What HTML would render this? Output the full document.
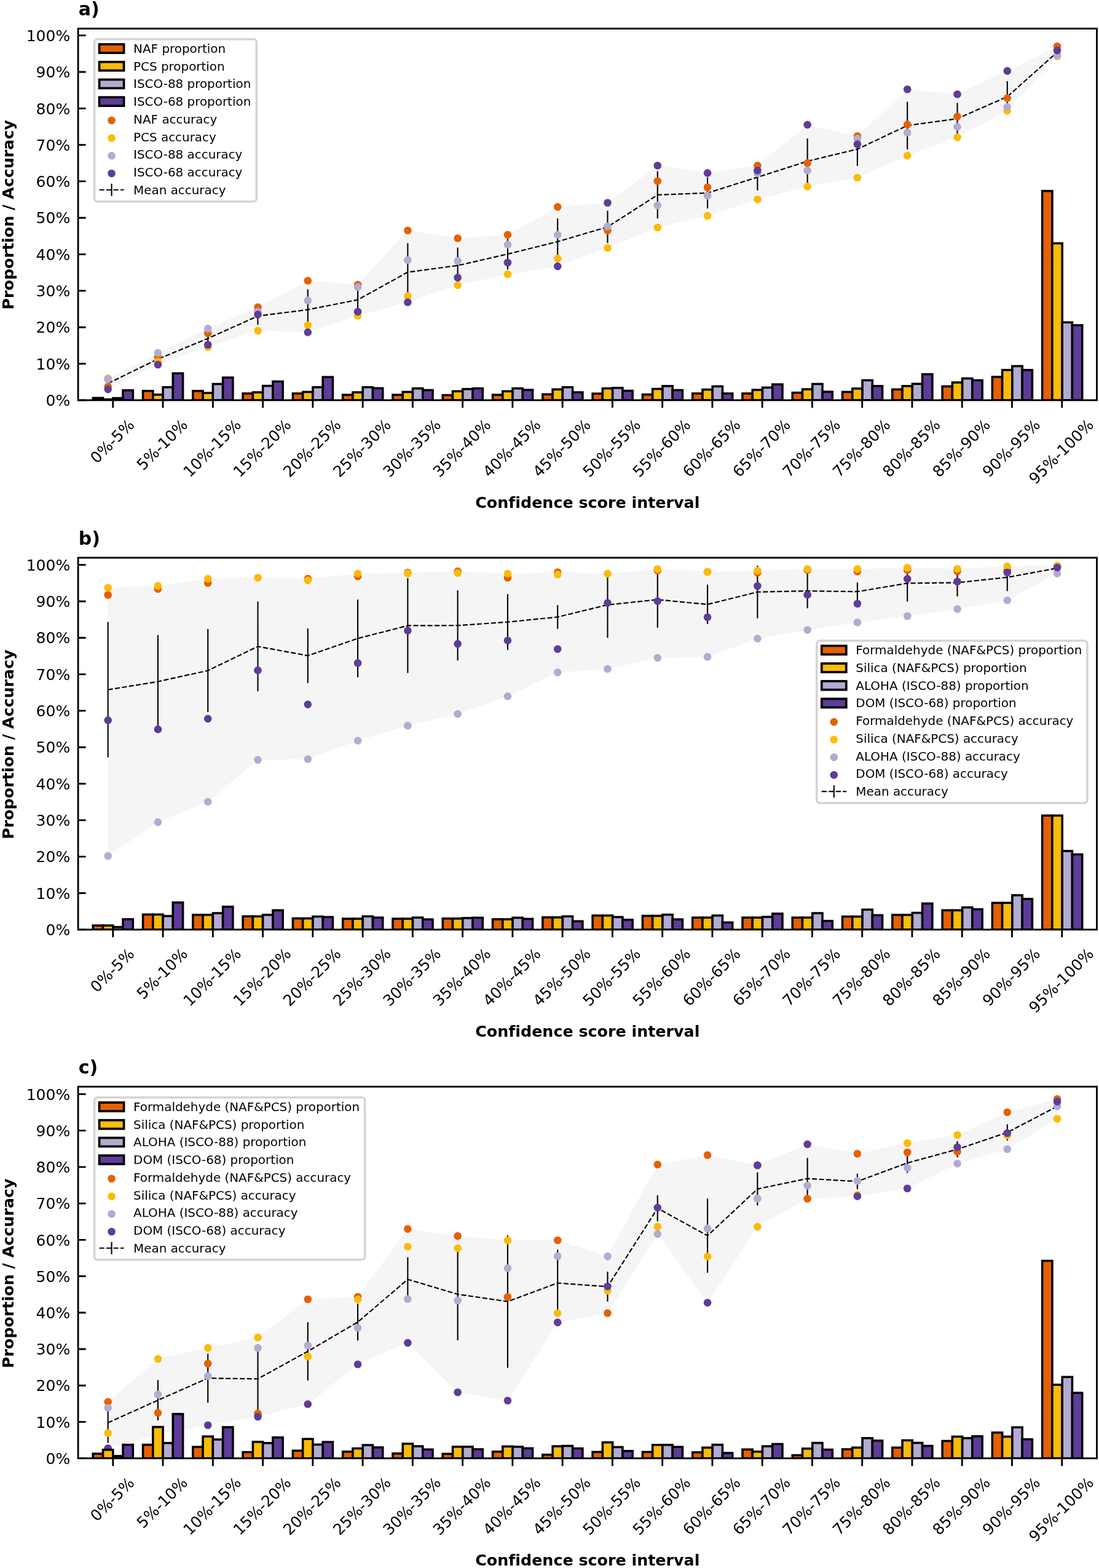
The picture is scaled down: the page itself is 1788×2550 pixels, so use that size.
<!DOCTYPE html>
<html lang="en">
<head>
<meta charset="utf-8">
<title>Proportion and accuracy by confidence score interval</title>
<style>
html,body{margin:0;padding:0;background:#fff}
body{width:1788px;height:2550px;overflow:hidden}
svg{display:block;font-family:'DejaVu Sans', 'Liberation Sans', sans-serif;fill:#000;font-variant-ligatures:none;font-kerning:normal}
svg text{fill:#000}
</style>
</head>
<body>
<svg width="1788" height="2550" viewBox="0 0 1788 2550">
<rect width="1788" height="2550" fill="#fff"/>
<g>
<clipPath id="clip-a"><rect x="127.1" y="46.5" width="1657.4" height="604.33"/></clipPath>
<g clip-path="url(#clip-a)">
<polygon fill="#f5f5f5" points="175.65,615.34 256.94,573.86 338.22,534.33 419.5,499.49 500.79,456.52 582.07,463.04 663.36,374.74 744.64,387.54 825.93,381.86 907.21,336.52 988.5,329.71 1069.79,269.26 1151.07,281.35 1232.36,269.26 1313.64,202.89 1394.92,221.26 1476.21,145.29 1557.5,153.23 1638.78,115.36 1720.07,75.3 1720.07,91.48 1638.78,180.13 1557.5,223.22 1476.21,253.08 1394.92,289.05 1313.64,303.34 1232.36,324.2 1151.07,351.04 1069.79,370 988.5,403.19 907.21,433.11 825.93,446.03 744.64,463.81 663.36,491.49 582.07,513.41 500.79,540.38 419.5,537.71 338.22,564.55 256.94,593.06 175.65,633.12"/>
<path d="M175.65 615.85V631.1M256.94 576.73V591.25M338.22 537.81V563M419.5 499.54V528.33M500.79 470.38V536.89M582.07 464.78V510.31M663.36 395.52V489.79M744.64 402.53V461.06M825.93 388.26V438.15M907.21 355.31V430.62M988.5 342.75V395.18M1069.79 278.62V355.31M1151.07 288.6V339.02M1232.36 266.87V309.46M1313.64 225.27V299.06M1394.92 215.28V269.82M1476.21 165.47V242.92M1557.5 167.13V218.92M1638.78 131.95V182.54M1720.07 78.2V91.34" stroke="#000" stroke-width="2.1" fill="none"/>
<path d="M175.65 623.47 L256.94 583.99 L338.22 550.4 L419.5 513.93 L500.79 503.63 L582.07 487.54 L663.36 442.66 L744.64 431.8 L825.93 413.2 L907.21 392.97 L988.5 368.97 L1069.79 316.97 L1151.07 313.81 L1232.36 288.17 L1313.64 262.16 L1394.92 242.55 L1476.21 204.19 L1557.5 193.02 L1638.78 157.25 L1720.07 84.77" stroke="#000" stroke-width="2.17" fill="none" stroke-dasharray="8.1 3.4"/>
<g fill="#e66101"><circle cx="175.65" cy="628.73" r="6.3"/><circle cx="256.94" cy="580.97" r="6.3"/><circle cx="338.22" cy="542.03" r="6.3"/><circle cx="419.5" cy="499.49" r="6.3"/><circle cx="500.79" cy="456.52" r="6.3"/><circle cx="582.07" cy="463.04" r="6.3"/><circle cx="663.36" cy="374.74" r="6.3"/><circle cx="744.64" cy="387.54" r="6.3"/><circle cx="825.93" cy="381.86" r="6.3"/><circle cx="907.21" cy="336.52" r="6.3"/><circle cx="988.5" cy="374.92" r="6.3"/><circle cx="1069.79" cy="294.57" r="6.3"/><circle cx="1151.07" cy="304.7" r="6.3"/><circle cx="1232.36" cy="269.26" r="6.3"/><circle cx="1313.64" cy="265.17" r="6.3"/><circle cx="1394.92" cy="221.26" r="6.3"/><circle cx="1476.21" cy="202.59" r="6.3"/><circle cx="1557.5" cy="189.44" r="6.3"/><circle cx="1638.78" cy="159.63" r="6.3"/><circle cx="1720.07" cy="75.3" r="6.3"/></g>
<g fill="#fbbb08"><circle cx="175.65" cy="615.34" r="6.3"/><circle cx="256.94" cy="588.08" r="6.3"/><circle cx="338.22" cy="564.55" r="6.3"/><circle cx="419.5" cy="537.71" r="6.3"/><circle cx="500.79" cy="528.82" r="6.3"/><circle cx="582.07" cy="513.41" r="6.3"/><circle cx="663.36" cy="481.41" r="6.3"/><circle cx="744.64" cy="463.81" r="6.3"/><circle cx="825.93" cy="446.03" r="6.3"/><circle cx="907.21" cy="420.37" r="6.3"/><circle cx="988.5" cy="403.19" r="6.3"/><circle cx="1069.79" cy="370" r="6.3"/><circle cx="1151.07" cy="351.04" r="6.3"/><circle cx="1232.36" cy="324.2" r="6.3"/><circle cx="1313.64" cy="303.34" r="6.3"/><circle cx="1394.92" cy="289.05" r="6.3"/><circle cx="1476.21" cy="253.08" r="6.3"/><circle cx="1557.5" cy="223.22" r="6.3"/><circle cx="1638.78" cy="180.13" r="6.3"/><circle cx="1720.07" cy="91.48" r="6.3"/></g>
<g fill="#b2abd2"><circle cx="175.65" cy="616.7" r="6.3"/><circle cx="256.94" cy="573.86" r="6.3"/><circle cx="338.22" cy="534.33" r="6.3"/><circle cx="419.5" cy="506.89" r="6.3"/><circle cx="500.79" cy="488.82" r="6.3"/><circle cx="582.07" cy="466.83" r="6.3"/><circle cx="663.36" cy="422.98" r="6.3"/><circle cx="744.64" cy="424.34" r="6.3"/><circle cx="825.93" cy="397.86" r="6.3"/><circle cx="907.21" cy="381.86" r="6.3"/><circle cx="988.5" cy="368.05" r="6.3"/><circle cx="1069.79" cy="334.03" r="6.3"/><circle cx="1151.07" cy="318.15" r="6.3"/><circle cx="1232.36" cy="281.94" r="6.3"/><circle cx="1313.64" cy="277.26" r="6.3"/><circle cx="1394.92" cy="225.41" r="6.3"/><circle cx="1476.21" cy="215.81" r="6.3"/><circle cx="1557.5" cy="206.21" r="6.3"/><circle cx="1638.78" cy="173.85" r="6.3"/><circle cx="1720.07" cy="90.3" r="6.3"/></g>
<g fill="#5e3c99"><circle cx="175.65" cy="633.12" r="6.3"/><circle cx="256.94" cy="593.06" r="6.3"/><circle cx="338.22" cy="560.7" r="6.3"/><circle cx="419.5" cy="511.63" r="6.3"/><circle cx="500.79" cy="540.38" r="6.3"/><circle cx="582.07" cy="506.89" r="6.3"/><circle cx="663.36" cy="491.49" r="6.3"/><circle cx="744.64" cy="451.49" r="6.3"/><circle cx="825.93" cy="427.07" r="6.3"/><circle cx="907.21" cy="433.11" r="6.3"/><circle cx="988.5" cy="329.71" r="6.3"/><circle cx="1069.79" cy="269.26" r="6.3"/><circle cx="1151.07" cy="281.35" r="6.3"/><circle cx="1232.36" cy="277.26" r="6.3"/><circle cx="1313.64" cy="202.89" r="6.3"/><circle cx="1394.92" cy="234.48" r="6.3"/><circle cx="1476.21" cy="145.29" r="6.3"/><circle cx="1557.5" cy="153.23" r="6.3"/><circle cx="1638.78" cy="115.36" r="6.3"/><circle cx="1720.07" cy="82" r="6.3"/></g>
<g fill="#e66101" stroke="#000" stroke-width="3.55" stroke-linejoin="miter">
<rect x="151.26" y="647.21" width="16.26" height="3.62"/>
<rect x="232.55" y="635.76" width="16.26" height="15.07"/>
<rect x="313.83" y="635.76" width="16.26" height="15.07"/>
<rect x="395.12" y="639.92" width="16.26" height="10.91"/>
<rect x="476.4" y="639.92" width="16.26" height="10.91"/>
<rect x="557.69" y="642.11" width="16.26" height="8.72"/>
<rect x="638.97" y="642.11" width="16.26" height="8.72"/>
<rect x="720.26" y="642.64" width="16.26" height="8.19"/>
<rect x="801.54" y="642.11" width="16.26" height="8.72"/>
<rect x="882.83" y="641.28" width="16.26" height="9.55"/>
<rect x="964.11" y="640.15" width="16.26" height="10.68"/>
<rect x="1045.4" y="641.58" width="16.26" height="9.25"/>
<rect x="1126.68" y="639.92" width="16.26" height="10.91"/>
<rect x="1207.97" y="639.92" width="16.26" height="10.91"/>
<rect x="1289.25" y="638.61" width="16.26" height="12.22"/>
<rect x="1370.54" y="637.42" width="16.26" height="13.41"/>
<rect x="1451.82" y="633.27" width="16.26" height="17.56"/>
<rect x="1533.11" y="628.35" width="16.26" height="22.48"/>
<rect x="1614.39" y="612.99" width="16.26" height="37.84"/>
<rect x="1695.68" y="310.6" width="16.26" height="340.23"/>
</g>
<g fill="#fbbb08" stroke="#000" stroke-width="3.55" stroke-linejoin="miter">
<rect x="167.52" y="649.58" width="16.26" height="1.25"/>
<rect x="248.81" y="641.81" width="16.26" height="9.02"/>
<rect x="330.09" y="639.09" width="16.26" height="11.74"/>
<rect x="411.38" y="638.02" width="16.26" height="12.81"/>
<rect x="492.66" y="637.42" width="16.26" height="13.41"/>
<rect x="573.95" y="638.02" width="16.26" height="12.81"/>
<rect x="655.23" y="637.42" width="16.26" height="13.41"/>
<rect x="736.52" y="636.3" width="16.26" height="14.53"/>
<rect x="817.8" y="636.3" width="16.26" height="14.53"/>
<rect x="899.09" y="633.27" width="16.26" height="17.56"/>
<rect x="980.37" y="631.67" width="16.26" height="19.16"/>
<rect x="1061.66" y="632.5" width="16.26" height="18.33"/>
<rect x="1142.94" y="633.57" width="16.26" height="17.26"/>
<rect x="1224.23" y="634.1" width="16.26" height="16.73"/>
<rect x="1305.51" y="633.04" width="16.26" height="17.79"/>
<rect x="1386.8" y="631.91" width="16.26" height="18.92"/>
<rect x="1468.08" y="627.82" width="16.26" height="23.01"/>
<rect x="1549.37" y="622" width="16.26" height="28.83"/>
<rect x="1630.65" y="601.72" width="16.26" height="49.11"/>
<rect x="1711.94" y="395.72" width="16.26" height="255.11"/>
</g>
<g fill="#b2abd2" stroke="#000" stroke-width="3.55" stroke-linejoin="miter">
<rect x="183.78" y="647.51" width="16.26" height="3.32"/>
<rect x="265.06" y="629.71" width="16.26" height="21.12"/>
<rect x="346.35" y="624.49" width="16.26" height="26.34"/>
<rect x="427.63" y="627.52" width="16.26" height="23.31"/>
<rect x="508.92" y="629.71" width="16.26" height="21.12"/>
<rect x="590.2" y="629.71" width="16.26" height="21.12"/>
<rect x="671.49" y="631.67" width="16.26" height="19.16"/>
<rect x="752.77" y="632.74" width="16.26" height="18.09"/>
<rect x="834.06" y="631.67" width="16.26" height="19.16"/>
<rect x="915.34" y="629.71" width="16.26" height="21.12"/>
<rect x="996.63" y="630.84" width="16.26" height="19.99"/>
<rect x="1077.91" y="627.82" width="16.26" height="23.01"/>
<rect x="1159.2" y="628.35" width="16.26" height="22.48"/>
<rect x="1240.48" y="630.31" width="16.26" height="20.52"/>
<rect x="1321.77" y="624.49" width="16.26" height="26.34"/>
<rect x="1403.05" y="618.44" width="16.26" height="32.39"/>
<rect x="1484.34" y="624.26" width="16.26" height="26.57"/>
<rect x="1565.62" y="615.48" width="16.26" height="35.35"/>
<rect x="1646.91" y="595.43" width="16.26" height="55.4"/>
<rect x="1728.19" y="524.25" width="16.26" height="126.58"/>
</g>
<g fill="#5e3c99" stroke="#000" stroke-width="3.55" stroke-linejoin="miter">
<rect x="200.04" y="634.76" width="16.26" height="16.07"/>
<rect x="281.32" y="607.17" width="16.26" height="43.66"/>
<rect x="362.61" y="614.05" width="16.26" height="36.78"/>
<rect x="443.89" y="620.4" width="16.26" height="30.43"/>
<rect x="525.18" y="613.22" width="16.26" height="37.61"/>
<rect x="606.46" y="631.37" width="16.26" height="19.46"/>
<rect x="687.75" y="634.46" width="16.26" height="16.37"/>
<rect x="769.03" y="631.67" width="16.26" height="19.16"/>
<rect x="850.32" y="634.1" width="16.26" height="16.73"/>
<rect x="931.6" y="638.02" width="16.26" height="12.81"/>
<rect x="1012.89" y="635.47" width="16.26" height="15.36"/>
<rect x="1094.17" y="634.46" width="16.26" height="16.37"/>
<rect x="1175.46" y="639.92" width="16.26" height="10.91"/>
<rect x="1256.74" y="625.09" width="16.26" height="25.74"/>
<rect x="1338.03" y="637.13" width="16.26" height="13.7"/>
<rect x="1419.31" y="627.82" width="16.26" height="23.01"/>
<rect x="1500.6" y="608.6" width="16.26" height="42.23"/>
<rect x="1581.88" y="618.44" width="16.26" height="32.39"/>
<rect x="1663.17" y="601.72" width="16.26" height="49.11"/>
<rect x="1744.45" y="528.88" width="16.26" height="121.95"/>
</g>
</g>
<path d="M127.1 650.83h12.5M127.1 591.52h12.5M127.1 532.2h12.5M127.1 472.89h12.5M127.1 413.57h12.5M127.1 354.26h12.5M127.1 294.94h12.5M127.1 235.63h12.5M127.1 176.31h12.5M127.1 117h12.5M127.1 57.68h12.5M183.8 650.83v12.5M265.06 650.83v12.5M346.32 650.83v12.5M427.58 650.83v12.5M508.84 650.83v12.5M590.1 650.83v12.5M671.36 650.83v12.5M752.62 650.83v12.5M833.88 650.83v12.5M915.14 650.83v12.5M996.4 650.83v12.5M1077.66 650.83v12.5M1158.92 650.83v12.5M1240.18 650.83v12.5M1321.44 650.83v12.5M1402.7 650.83v12.5M1483.96 650.83v12.5M1565.22 650.83v12.5M1646.48 650.83v12.5M1727.74 650.83v12.5" stroke="#000" stroke-width="2.85" fill="none"/>
<rect x="127.1" y="46.5" width="1657.4" height="604.33" fill="none" stroke="#000" stroke-width="2.85"/>
<g font-size="25" text-anchor="end">
<text x="114.2" y="660.03">0%</text>
<text x="114.2" y="600.72">10%</text>
<text x="114.2" y="541.4">20%</text>
<text x="114.2" y="482.09">30%</text>
<text x="114.2" y="422.77">40%</text>
<text x="114.2" y="363.46">50%</text>
<text x="114.2" y="304.14">60%</text>
<text x="114.2" y="244.83">70%</text>
<text x="114.2" y="185.51">80%</text>
<text x="114.2" y="126.2">90%</text>
<text x="114.2" y="66.88">100%</text>
</g>
<g font-size="25" text-anchor="middle">
<text transform="translate(182.35 717.43) rotate(-45)" y="9">0%-5%</text>
<text transform="translate(263.61 723.03) rotate(-45)" y="9">5%-10%</text>
<text transform="translate(344.87 728.63) rotate(-45)" y="9">10%-15%</text>
<text transform="translate(426.13 728.63) rotate(-45)" y="9">15%-20%</text>
<text transform="translate(507.39 728.63) rotate(-45)" y="9">20%-25%</text>
<text transform="translate(588.65 728.63) rotate(-45)" y="9">25%-30%</text>
<text transform="translate(669.91 728.63) rotate(-45)" y="9">30%-35%</text>
<text transform="translate(751.17 728.63) rotate(-45)" y="9">35%-40%</text>
<text transform="translate(832.43 728.63) rotate(-45)" y="9">40%-45%</text>
<text transform="translate(913.69 728.63) rotate(-45)" y="9">45%-50%</text>
<text transform="translate(994.95 728.63) rotate(-45)" y="9">50%-55%</text>
<text transform="translate(1076.21 728.63) rotate(-45)" y="9">55%-60%</text>
<text transform="translate(1157.47 728.63) rotate(-45)" y="9">60%-65%</text>
<text transform="translate(1238.73 728.63) rotate(-45)" y="9">65%-70%</text>
<text transform="translate(1319.99 728.63) rotate(-45)" y="9">70%-75%</text>
<text transform="translate(1401.25 728.63) rotate(-45)" y="9">75%-80%</text>
<text transform="translate(1482.51 728.63) rotate(-45)" y="9">80%-85%</text>
<text transform="translate(1563.77 728.63) rotate(-45)" y="9">85%-90%</text>
<text transform="translate(1645.03 728.63) rotate(-45)" y="9">90%-95%</text>
<text transform="translate(1726.29 734.23) rotate(-45)" y="9">95%-100%</text>
</g>
<text x="955.8" y="825.63" font-size="25.35" font-weight="bold" text-anchor="middle">Confidence score interval</text>
<text transform="translate(22 349.33) rotate(-90)" font-size="25.35" font-weight="bold" text-anchor="middle">Proportion / Accuracy</text>
<text x="127.7" y="25.13" font-size="30" font-weight="bold">a)</text>
<rect x="153.55" y="63.8" width="263.8" height="264" rx="5" ry="5" fill="#fff" fill-opacity="0.8" stroke="#d4d4d4" stroke-width="3.5"/>
<g font-size="19.92">
<rect x="161.55" y="72" width="40" height="14" fill="#e66101" stroke="#000" stroke-width="3.7"/>
<text x="217.1" y="86">NAF proportion</text>
<rect x="161.55" y="100.72" width="40" height="14" fill="#fbbb08" stroke="#000" stroke-width="3.7"/>
<text x="217.1" y="114.72">PCS proportion</text>
<rect x="161.55" y="129.44" width="40" height="14" fill="#b2abd2" stroke="#000" stroke-width="3.7"/>
<text x="217.1" y="143.44">ISCO-88 proportion</text>
<rect x="161.55" y="158.16" width="40" height="14" fill="#5e3c99" stroke="#000" stroke-width="3.7"/>
<text x="217.1" y="172.16">ISCO-68 proportion</text>
<circle cx="181.55" cy="195.78" r="6.3" fill="#e66101"/>
<text x="217.1" y="200.88">NAF accuracy</text>
<circle cx="181.55" cy="224.5" r="6.3" fill="#fbbb08"/>
<text x="217.1" y="229.6">PCS accuracy</text>
<circle cx="181.55" cy="253.22" r="6.3" fill="#b2abd2"/>
<text x="217.1" y="258.32">ISCO-88 accuracy</text>
<circle cx="181.55" cy="281.94" r="6.3" fill="#5e3c99"/>
<text x="217.1" y="287.04">ISCO-68 accuracy</text>
<path d="M161.55 308.76h40" stroke="#000" stroke-width="2.17" stroke-dasharray="8.1 3.4" fill="none"/>
<path d="M181.55 298.76v20" stroke="#000" stroke-width="2.1" fill="none"/>
<text x="217.1" y="315.76">Mean accuracy</text>
</g>
</g>
<g>
<clipPath id="clip-b"><rect x="127.1" y="907" width="1657.4" height="604.8"/></clipPath>
<g clip-path="url(#clip-b)">
<polygon fill="#f5f5f5" points="175.65,955.95 256.94,952.69 338.22,941.13 419.5,939.53 500.79,941.13 582.07,932.9 663.36,931.3 744.64,929.1 825.93,932.9 907.21,930.47 988.5,932.9 1069.79,925.49 1151.07,929.87 1232.36,928.27 1313.64,925.25 1394.92,925.25 1476.21,923.3 1557.5,924.95 1638.78,921.1 1720.07,919.74 1720.07,932.66 1638.78,976.27 1557.5,990.56 1476.21,1002.05 1394.92,1012.24 1313.64,1024.57 1232.36,1038.56 1151.07,1068.19 1069.79,1069.85 988.5,1087.92 907.21,1093.43 825.93,1132.42 744.64,1160.93 663.36,1180.13 582.07,1204.54 500.79,1234.47 419.5,1235.83 338.22,1303.86 256.94,1337.11 175.65,1391.98"/>
<path d="M175.65 1011.55V1231.85M256.94 1032.72V1184.21M338.22 1023.03V1157.91M419.5 978.19V1124.34M500.79 1021.91V1110.64M582.07 975.09V1101.43M663.36 940.32V1094.54M744.64 960.12V1074.36M825.93 966.29V1056.92M907.21 984.11V1022.78M988.5 930V1037.24M1069.79 929.55V1020.78M1151.07 950.81V1015.1M1232.36 920.04V1005.45M1313.64 932.87V989.22M1394.92 947.15V977.16M1476.21 918.76V978.2M1557.5 925.23V969.95M1638.78 916.58V961.18M1720.07 918.67V929.35" stroke="#000" stroke-width="2.1" fill="none"/>
<path d="M175.65 1121.7 L256.94 1108.47 L338.22 1090.47 L419.5 1051.27 L500.79 1066.27 L582.07 1038.26 L663.36 1017.43 L744.64 1017.24 L825.93 1011.61 L907.21 1003.44 L988.5 983.62 L1069.79 975.16 L1151.07 982.96 L1232.36 962.75 L1313.64 961.04 L1394.92 962.16 L1476.21 948.48 L1557.5 947.59 L1638.78 938.88 L1720.07 924.01" stroke="#000" stroke-width="2.17" fill="none" stroke-dasharray="8.1 3.4"/>
<g fill="#e66101"><circle cx="175.65" cy="967.5" r="6.3"/><circle cx="256.94" cy="957.9" r="6.3"/><circle cx="338.22" cy="948.01" r="6.3"/><circle cx="419.5" cy="939.53" r="5.7"/><circle cx="500.79" cy="941.13" r="6.3"/><circle cx="582.07" cy="937.28" r="6.3"/><circle cx="663.36" cy="931.3" r="6.3"/><circle cx="744.64" cy="929.1" r="6.3"/><circle cx="825.93" cy="939.53" r="6.3"/><circle cx="907.21" cy="930.47" r="6.3"/><circle cx="988.5" cy="933.01" r="5.7"/><circle cx="1069.79" cy="927.68" r="6.3"/><circle cx="1151.07" cy="930.05" r="6.3"/><circle cx="1232.36" cy="931.24" r="6.3"/><circle cx="1313.64" cy="927.15" r="6.3"/><circle cx="1394.92" cy="929.34" r="6.3"/><circle cx="1476.21" cy="927.15" r="6.3"/><circle cx="1557.5" cy="929.04" r="6.3"/><circle cx="1638.78" cy="927.15" r="6.3"/><circle cx="1720.07" cy="920.57" r="6.3"/></g>
<g fill="#fbbb08"><circle cx="175.65" cy="955.95" r="6.3"/><circle cx="256.94" cy="952.69" r="6.3"/><circle cx="338.22" cy="941.13" r="6.3"/><circle cx="419.5" cy="939.53" r="6.3"/><circle cx="500.79" cy="943.92" r="6.3"/><circle cx="582.07" cy="932.9" r="6.3"/><circle cx="663.36" cy="932.66" r="6.3"/><circle cx="744.64" cy="931.83" r="6.3"/><circle cx="825.93" cy="932.9" r="6.3"/><circle cx="907.21" cy="934.32" r="6.3"/><circle cx="988.5" cy="932.9" r="6.3"/><circle cx="1069.79" cy="925.49" r="6.3"/><circle cx="1151.07" cy="929.87" r="6.3"/><circle cx="1232.36" cy="928.27" r="6.3"/><circle cx="1313.64" cy="925.25" r="6.3"/><circle cx="1394.92" cy="925.25" r="6.3"/><circle cx="1476.21" cy="923.3" r="6.3"/><circle cx="1557.5" cy="924.95" r="6.3"/><circle cx="1638.78" cy="921.1" r="6.3"/><circle cx="1720.07" cy="919.74" r="6.3"/></g>
<g fill="#b2abd2"><circle cx="175.65" cy="1391.98" r="6.3"/><circle cx="256.94" cy="1337.11" r="6.3"/><circle cx="338.22" cy="1303.86" r="6.3"/><circle cx="419.5" cy="1235.83" r="6.3"/><circle cx="500.79" cy="1234.47" r="6.3"/><circle cx="582.07" cy="1204.54" r="6.3"/><circle cx="663.36" cy="1180.13" r="6.3"/><circle cx="744.64" cy="1160.93" r="6.3"/><circle cx="825.93" cy="1132.42" r="6.3"/><circle cx="907.21" cy="1093.43" r="6.3"/><circle cx="988.5" cy="1087.92" r="6.3"/><circle cx="1069.79" cy="1069.85" r="6.3"/><circle cx="1151.07" cy="1068.19" r="6.3"/><circle cx="1232.36" cy="1038.56" r="6.3"/><circle cx="1313.64" cy="1024.57" r="6.3"/><circle cx="1394.92" cy="1012.24" r="6.3"/><circle cx="1476.21" cy="1002.05" r="6.3"/><circle cx="1557.5" cy="990.56" r="6.3"/><circle cx="1638.78" cy="976.27" r="6.3"/><circle cx="1720.07" cy="932.66" r="6.3"/></g>
<g fill="#5e3c99"><circle cx="175.65" cy="1171.36" r="6.3"/><circle cx="256.94" cy="1186.17" r="6.3"/><circle cx="338.22" cy="1168.87" r="6.3"/><circle cx="419.5" cy="1090.17" r="6.3"/><circle cx="500.79" cy="1145.58" r="6.3"/><circle cx="582.07" cy="1078.32" r="6.3"/><circle cx="663.36" cy="1025.64" r="6.3"/><circle cx="744.64" cy="1047.09" r="6.3"/><circle cx="825.93" cy="1041.58" r="6.3"/><circle cx="907.21" cy="1055.56" r="6.3"/><circle cx="988.5" cy="980.66" r="6.3"/><circle cx="1069.79" cy="977.64" r="6.3"/><circle cx="1151.07" cy="1003.71" r="6.3"/><circle cx="1232.36" cy="952.93" r="6.3"/><circle cx="1313.64" cy="967.21" r="6.3"/><circle cx="1394.92" cy="981.79" r="6.3"/><circle cx="1476.21" cy="941.43" r="6.3"/><circle cx="1557.5" cy="945.81" r="6.3"/><circle cx="1638.78" cy="931" r="6.3"/><circle cx="1720.07" cy="923.06" r="6.3"/></g>
<g fill="#e66101" stroke="#000" stroke-width="3.55" stroke-linejoin="miter">
<rect x="151.26" y="1505.1" width="16.26" height="6.7"/>
<rect x="232.55" y="1487.24" width="16.26" height="24.56"/>
<rect x="313.83" y="1487.78" width="16.26" height="24.02"/>
<rect x="395.12" y="1490.27" width="16.26" height="21.53"/>
<rect x="476.4" y="1493.59" width="16.26" height="18.21"/>
<rect x="557.69" y="1494.12" width="16.26" height="17.68"/>
<rect x="638.97" y="1494.12" width="16.26" height="17.68"/>
<rect x="720.26" y="1493.83" width="16.26" height="17.97"/>
<rect x="801.54" y="1494.95" width="16.26" height="16.85"/>
<rect x="882.83" y="1491.93" width="16.26" height="19.87"/>
<rect x="964.11" y="1488.9" width="16.26" height="22.9"/>
<rect x="1045.4" y="1489.44" width="16.26" height="22.36"/>
<rect x="1126.68" y="1492.23" width="16.26" height="19.57"/>
<rect x="1207.97" y="1492.23" width="16.26" height="19.57"/>
<rect x="1289.25" y="1492.23" width="16.26" height="19.57"/>
<rect x="1370.54" y="1490.57" width="16.26" height="21.23"/>
<rect x="1451.82" y="1487.84" width="16.26" height="23.96"/>
<rect x="1533.11" y="1480.36" width="16.26" height="31.44"/>
<rect x="1614.39" y="1468.32" width="16.26" height="43.48"/>
<rect x="1695.68" y="1326.32" width="16.26" height="185.48"/>
</g>
<g fill="#fbbb08" stroke="#000" stroke-width="3.55" stroke-linejoin="miter">
<rect x="167.52" y="1505.1" width="16.26" height="6.7"/>
<rect x="248.81" y="1487.24" width="16.26" height="24.56"/>
<rect x="330.09" y="1487.78" width="16.26" height="24.02"/>
<rect x="411.38" y="1490.27" width="16.26" height="21.53"/>
<rect x="492.66" y="1493.59" width="16.26" height="18.21"/>
<rect x="573.95" y="1494.12" width="16.26" height="17.68"/>
<rect x="655.23" y="1494.12" width="16.26" height="17.68"/>
<rect x="736.52" y="1493.83" width="16.26" height="17.97"/>
<rect x="817.8" y="1494.95" width="16.26" height="16.85"/>
<rect x="899.09" y="1491.93" width="16.26" height="19.87"/>
<rect x="980.37" y="1488.9" width="16.26" height="22.9"/>
<rect x="1061.66" y="1489.44" width="16.26" height="22.36"/>
<rect x="1142.94" y="1492.23" width="16.26" height="19.57"/>
<rect x="1224.23" y="1492.23" width="16.26" height="19.57"/>
<rect x="1305.51" y="1492.23" width="16.26" height="19.57"/>
<rect x="1386.8" y="1490.57" width="16.26" height="21.23"/>
<rect x="1468.08" y="1487.84" width="16.26" height="23.96"/>
<rect x="1549.37" y="1480.36" width="16.26" height="31.44"/>
<rect x="1630.65" y="1468.32" width="16.26" height="43.48"/>
<rect x="1711.94" y="1326.32" width="16.26" height="185.48"/>
</g>
<g fill="#b2abd2" stroke="#000" stroke-width="3.55" stroke-linejoin="miter">
<rect x="183.78" y="1507.65" width="16.26" height="4.15"/>
<rect x="265.06" y="1489.73" width="16.26" height="22.07"/>
<rect x="346.35" y="1485.05" width="16.26" height="26.75"/>
<rect x="427.63" y="1487.78" width="16.26" height="24.02"/>
<rect x="508.92" y="1490.57" width="16.26" height="21.23"/>
<rect x="590.2" y="1490.27" width="16.26" height="21.53"/>
<rect x="671.49" y="1492.23" width="16.26" height="19.57"/>
<rect x="752.77" y="1493" width="16.26" height="18.8"/>
<rect x="834.06" y="1492.46" width="16.26" height="19.34"/>
<rect x="915.34" y="1490.27" width="16.26" height="21.53"/>
<rect x="996.63" y="1491.4" width="16.26" height="20.4"/>
<rect x="1077.91" y="1487.54" width="16.26" height="24.26"/>
<rect x="1159.2" y="1488.9" width="16.26" height="22.9"/>
<rect x="1240.48" y="1491.1" width="16.26" height="20.7"/>
<rect x="1321.77" y="1485.05" width="16.26" height="26.75"/>
<rect x="1403.05" y="1479.3" width="16.26" height="32.5"/>
<rect x="1484.34" y="1484.52" width="16.26" height="27.28"/>
<rect x="1565.62" y="1475.74" width="16.26" height="36.06"/>
<rect x="1646.91" y="1455.93" width="16.26" height="55.87"/>
<rect x="1728.19" y="1383.98" width="16.26" height="127.82"/>
</g>
<g fill="#5e3c99" stroke="#000" stroke-width="3.55" stroke-linejoin="miter">
<rect x="200.04" y="1494.95" width="16.26" height="16.85"/>
<rect x="281.32" y="1467.73" width="16.26" height="44.07"/>
<rect x="362.61" y="1474.61" width="16.26" height="37.19"/>
<rect x="443.89" y="1480.36" width="16.26" height="31.44"/>
<rect x="525.18" y="1491.4" width="16.26" height="20.4"/>
<rect x="606.46" y="1492.23" width="16.26" height="19.57"/>
<rect x="687.75" y="1495.19" width="16.26" height="16.61"/>
<rect x="769.03" y="1492.46" width="16.26" height="19.34"/>
<rect x="850.32" y="1494.42" width="16.26" height="17.38"/>
<rect x="931.6" y="1498.22" width="16.26" height="13.58"/>
<rect x="1012.89" y="1495.78" width="16.26" height="16.02"/>
<rect x="1094.17" y="1495.19" width="16.26" height="16.61"/>
<rect x="1175.46" y="1500.17" width="16.26" height="11.63"/>
<rect x="1256.74" y="1485.88" width="16.26" height="25.92"/>
<rect x="1338.03" y="1497.68" width="16.26" height="14.12"/>
<rect x="1419.31" y="1488.37" width="16.26" height="23.43"/>
<rect x="1500.6" y="1469.39" width="16.26" height="42.41"/>
<rect x="1581.88" y="1478.76" width="16.26" height="33.04"/>
<rect x="1663.17" y="1461.98" width="16.26" height="49.82"/>
<rect x="1744.45" y="1389.49" width="16.26" height="122.31"/>
</g>
</g>
<path d="M127.1 1511.8h12.5M127.1 1452.48h12.5M127.1 1393.17h12.5M127.1 1333.86h12.5M127.1 1274.54h12.5M127.1 1215.22h12.5M127.1 1155.91h12.5M127.1 1096.6h12.5M127.1 1037.28h12.5M127.1 977.96h12.5M127.1 918.65h12.5M183.8 1511.8v12.5M265.06 1511.8v12.5M346.32 1511.8v12.5M427.58 1511.8v12.5M508.84 1511.8v12.5M590.1 1511.8v12.5M671.36 1511.8v12.5M752.62 1511.8v12.5M833.88 1511.8v12.5M915.14 1511.8v12.5M996.4 1511.8v12.5M1077.66 1511.8v12.5M1158.92 1511.8v12.5M1240.18 1511.8v12.5M1321.44 1511.8v12.5M1402.7 1511.8v12.5M1483.96 1511.8v12.5M1565.22 1511.8v12.5M1646.48 1511.8v12.5M1727.74 1511.8v12.5" stroke="#000" stroke-width="2.85" fill="none"/>
<rect x="127.1" y="907" width="1657.4" height="604.8" fill="none" stroke="#000" stroke-width="2.85"/>
<g font-size="25" text-anchor="end">
<text x="114.2" y="1521">0%</text>
<text x="114.2" y="1461.68">10%</text>
<text x="114.2" y="1402.37">20%</text>
<text x="114.2" y="1343.06">30%</text>
<text x="114.2" y="1283.74">40%</text>
<text x="114.2" y="1224.42">50%</text>
<text x="114.2" y="1165.11">60%</text>
<text x="114.2" y="1105.8">70%</text>
<text x="114.2" y="1046.48">80%</text>
<text x="114.2" y="987.16">90%</text>
<text x="114.2" y="927.85">100%</text>
</g>
<g font-size="25" text-anchor="middle">
<text transform="translate(182.35 1577.7) rotate(-45)" y="9">0%-5%</text>
<text transform="translate(263.61 1583.3) rotate(-45)" y="9">5%-10%</text>
<text transform="translate(344.87 1588.9) rotate(-45)" y="9">10%-15%</text>
<text transform="translate(426.13 1588.9) rotate(-45)" y="9">15%-20%</text>
<text transform="translate(507.39 1588.9) rotate(-45)" y="9">20%-25%</text>
<text transform="translate(588.65 1588.9) rotate(-45)" y="9">25%-30%</text>
<text transform="translate(669.91 1588.9) rotate(-45)" y="9">30%-35%</text>
<text transform="translate(751.17 1588.9) rotate(-45)" y="9">35%-40%</text>
<text transform="translate(832.43 1588.9) rotate(-45)" y="9">40%-45%</text>
<text transform="translate(913.69 1588.9) rotate(-45)" y="9">45%-50%</text>
<text transform="translate(994.95 1588.9) rotate(-45)" y="9">50%-55%</text>
<text transform="translate(1076.21 1588.9) rotate(-45)" y="9">55%-60%</text>
<text transform="translate(1157.47 1588.9) rotate(-45)" y="9">60%-65%</text>
<text transform="translate(1238.73 1588.9) rotate(-45)" y="9">65%-70%</text>
<text transform="translate(1319.99 1588.9) rotate(-45)" y="9">70%-75%</text>
<text transform="translate(1401.25 1588.9) rotate(-45)" y="9">75%-80%</text>
<text transform="translate(1482.51 1588.9) rotate(-45)" y="9">80%-85%</text>
<text transform="translate(1563.77 1588.9) rotate(-45)" y="9">85%-90%</text>
<text transform="translate(1645.03 1588.9) rotate(-45)" y="9">90%-95%</text>
<text transform="translate(1726.29 1594.5) rotate(-45)" y="9">95%-100%</text>
</g>
<text x="955.8" y="1686.2" font-size="25.35" font-weight="bold" text-anchor="middle">Confidence score interval</text>
<text transform="translate(22 1210.6) rotate(-90)" font-size="25.35" font-weight="bold" text-anchor="middle">Proportion / Accuracy</text>
<text x="127.7" y="885.5" font-size="30" font-weight="bold">b)</text>
<rect x="1328.8" y="1042.1" width="440.1" height="264" rx="5" ry="5" fill="#fff" fill-opacity="0.8" stroke="#d4d4d4" stroke-width="3.5"/>
<g font-size="19.92">
<rect x="1336.8" y="1050.3" width="40" height="14" fill="#e66101" stroke="#000" stroke-width="3.7"/>
<text x="1392.35" y="1064.3">Formaldehyde (NAF&amp;PCS) proportion</text>
<rect x="1336.8" y="1079.02" width="40" height="14" fill="#fbbb08" stroke="#000" stroke-width="3.7"/>
<text x="1392.35" y="1093.02">Silica (NAF&amp;PCS) proportion</text>
<rect x="1336.8" y="1107.74" width="40" height="14" fill="#b2abd2" stroke="#000" stroke-width="3.7"/>
<text x="1392.35" y="1121.74">ALOHA (ISCO-88) proportion</text>
<rect x="1336.8" y="1136.46" width="40" height="14" fill="#5e3c99" stroke="#000" stroke-width="3.7"/>
<text x="1392.35" y="1150.46">DOM (ISCO-68) proportion</text>
<circle cx="1356.8" cy="1174.08" r="6.3" fill="#e66101"/>
<text x="1392.35" y="1179.18">Formaldehyde (NAF&amp;PCS) accuracy</text>
<circle cx="1356.8" cy="1202.8" r="6.3" fill="#fbbb08"/>
<text x="1392.35" y="1207.9">Silica (NAF&amp;PCS) accuracy</text>
<circle cx="1356.8" cy="1231.52" r="6.3" fill="#b2abd2"/>
<text x="1392.35" y="1236.62">ALOHA (ISCO-88) accuracy</text>
<circle cx="1356.8" cy="1260.24" r="6.3" fill="#5e3c99"/>
<text x="1392.35" y="1265.34">DOM (ISCO-68) accuracy</text>
<path d="M1336.8 1287.06h40" stroke="#000" stroke-width="2.17" stroke-dasharray="8.1 3.4" fill="none"/>
<path d="M1356.8 1277.06v20" stroke="#000" stroke-width="2.1" fill="none"/>
<text x="1392.35" y="1294.06">Mean accuracy</text>
</g>
</g>
<g>
<clipPath id="clip-c"><rect x="127.1" y="1767.2" width="1657.4" height="604.45"/></clipPath>
<g clip-path="url(#clip-c)">
<polygon fill="#f5f5f5" points="175.65,2279.86 256.94,2209.93 338.22,2192.09 419.5,2175.08 500.79,2113.04 582.07,2108.95 663.36,1998.61 744.64,2010.16 825.93,2017.28 907.21,2017.04 988.5,2043.11 1069.79,1893.84 1151.07,1878.43 1232.36,1894.9 1313.64,1860.89 1394.92,1876.24 1476.21,1858.99 1557.5,1845.78 1638.78,1808.74 1720.07,1787.35 1720.07,1819.47 1638.78,1868.83 1557.5,1892.18 1476.21,1932.77 1394.92,1945.39 1313.64,1949.54 1232.36,1995.05 1151.07,2118.55 1069.79,2006.85 988.5,2135.56 907.21,2150.67 825.93,2277.72 744.64,2264.27 663.36,2183.86 582.07,2218.7 500.79,2283.47 419.5,2304.03 338.22,2317.72 256.94,2333.01 175.65,2355.23"/>
<path d="M175.65 2281.24V2346.39M256.94 2244.26V2310M338.22 2201.4V2281.24M419.5 2190.32V2294.55M500.79 2150.31V2244.95M582.07 2120.2V2180.02M663.36 2044.72V2116.5M744.64 2029.97V2179.69M825.93 2008.89V2224.47M907.21 2032.45V2140.59M988.5 2068.02V2116.82M1069.79 1943.75V1986.15M1151.07 1949.37V2069.71M1232.36 1906.59V1960.61M1313.64 1882.89V1950.41M1394.92 1908.63V1934.1M1476.21 1875.05V1907.5M1557.5 1855.98V1882.27M1638.78 1828.53V1854.82M1720.07 1793.38V1805.23" stroke="#000" stroke-width="2.1" fill="none"/>
<path d="M175.65 2313.81 L256.94 2277.13 L338.22 2241.32 L419.5 2242.43 L500.79 2197.63 L582.07 2150.11 L663.36 2080.61 L744.64 2104.83 L825.93 2116.68 L907.21 2086.52 L988.5 2092.42 L1069.79 1964.95 L1151.07 2009.54 L1232.36 1933.6 L1313.64 1916.65 L1394.92 1921.36 L1476.21 1891.27 L1557.5 1869.13 L1638.78 1841.67 L1720.07 1799.3" stroke="#000" stroke-width="2.17" fill="none" stroke-dasharray="8.1 3.4"/>
<g fill="#e66101"><circle cx="175.65" cy="2279.86" r="6.3"/><circle cx="256.94" cy="2297.75" r="6.3"/><circle cx="338.22" cy="2217.57" r="6.3"/><circle cx="419.5" cy="2298.52" r="6.3"/><circle cx="500.79" cy="2113.04" r="6.3"/><circle cx="582.07" cy="2108.95" r="6.3"/><circle cx="663.36" cy="1998.61" r="6.3"/><circle cx="744.64" cy="2010.16" r="6.3"/><circle cx="825.93" cy="2109.19" r="6.3"/><circle cx="907.21" cy="2017.04" r="6.3"/><circle cx="988.5" cy="2135.56" r="6.3"/><circle cx="1069.79" cy="1893.84" r="6.3"/><circle cx="1151.07" cy="1878.43" r="6.3"/><circle cx="1232.36" cy="1894.9" r="6.3"/><circle cx="1313.64" cy="1949.54" r="6.3"/><circle cx="1394.92" cy="1876.24" r="6.3"/><circle cx="1476.21" cy="1874.04" r="6.3"/><circle cx="1557.5" cy="1872.98" r="6.3"/><circle cx="1638.78" cy="1808.74" r="6.3"/><circle cx="1720.07" cy="1787.35" r="6.3"/></g>
<g fill="#fbbb08"><circle cx="175.65" cy="2330.64" r="6.3"/><circle cx="256.94" cy="2209.93" r="6.3"/><circle cx="338.22" cy="2192.09" r="6.3"/><circle cx="419.5" cy="2175.08" r="6.3"/><circle cx="500.79" cy="2206.08" r="6.3"/><circle cx="582.07" cy="2113.34" r="6.3"/><circle cx="663.36" cy="2027.47" r="6.3"/><circle cx="744.64" cy="2029.9" r="6.3"/><circle cx="825.93" cy="2017.28" r="6.3"/><circle cx="907.21" cy="2135.56" r="6.3"/><circle cx="988.5" cy="2099.05" r="6.3"/><circle cx="1069.79" cy="1995.05" r="6.3"/><circle cx="1151.07" cy="2043.35" r="6.3"/><circle cx="1232.36" cy="1995.05" r="6.3"/><circle cx="1313.64" cy="1928.09" r="5.7"/><circle cx="1394.92" cy="1943.38" r="6.3"/><circle cx="1476.21" cy="1858.99" r="6.3"/><circle cx="1557.5" cy="1845.78" r="6.3"/><circle cx="1638.78" cy="1846.37" r="6.3"/><circle cx="1720.07" cy="1819.47" r="6.3"/></g>
<g fill="#b2abd2"><circle cx="175.65" cy="2289.52" r="6.3"/><circle cx="256.94" cy="2267.83" r="6.3"/><circle cx="338.22" cy="2237.9" r="6.3"/><circle cx="419.5" cy="2192.09" r="6.3"/><circle cx="500.79" cy="2187.94" r="6.3"/><circle cx="582.07" cy="2159.44" r="6.3"/><circle cx="663.36" cy="2112.51" r="6.3"/><circle cx="744.64" cy="2115" r="6.3"/><circle cx="825.93" cy="2062.55" r="6.3"/><circle cx="907.21" cy="2042.82" r="6.3"/><circle cx="988.5" cy="2043.11" r="6.3"/><circle cx="1069.79" cy="2006.85" r="6.3"/><circle cx="1151.07" cy="1997.84" r="6.3"/><circle cx="1232.36" cy="1949.25" r="6.3"/><circle cx="1313.64" cy="1928.09" r="6.3"/><circle cx="1394.92" cy="1920.44" r="6.3"/><circle cx="1476.21" cy="1899.29" r="6.3"/><circle cx="1557.5" cy="1892.18" r="6.3"/><circle cx="1638.78" cy="1868.83" r="6.3"/><circle cx="1720.07" cy="1798.9" r="6.3"/></g>
<g fill="#5e3c99"><circle cx="175.65" cy="2355.23" r="6.3"/><circle cx="256.94" cy="2333.01" r="6.3"/><circle cx="338.22" cy="2317.72" r="6.3"/><circle cx="419.5" cy="2304.03" r="6.3"/><circle cx="500.79" cy="2283.47" r="6.3"/><circle cx="582.07" cy="2218.7" r="6.3"/><circle cx="663.36" cy="2183.86" r="6.3"/><circle cx="744.64" cy="2264.27" r="6.3"/><circle cx="825.93" cy="2277.72" r="6.3"/><circle cx="907.21" cy="2150.67" r="6.3"/><circle cx="988.5" cy="2091.94" r="6.3"/><circle cx="1069.79" cy="1964.06" r="6.3"/><circle cx="1151.07" cy="2118.55" r="6.3"/><circle cx="1232.36" cy="1895.2" r="6.3"/><circle cx="1313.64" cy="1860.89" r="6.3"/><circle cx="1394.92" cy="1945.39" r="6.3"/><circle cx="1476.21" cy="1932.77" r="6.3"/><circle cx="1557.5" cy="1865.57" r="6.3"/><circle cx="1638.78" cy="1842.75" r="6.3"/><circle cx="1720.07" cy="1791.5" r="6.3"/></g>
<g fill="#e66101" stroke="#000" stroke-width="3.55" stroke-linejoin="miter">
<rect x="151.26" y="2364.1" width="16.26" height="7.55"/>
<rect x="232.55" y="2349.57" width="16.26" height="22.08"/>
<rect x="313.83" y="2353.13" width="16.26" height="18.52"/>
<rect x="395.12" y="2361.61" width="16.26" height="10.04"/>
<rect x="476.4" y="2359.18" width="16.26" height="12.47"/>
<rect x="557.69" y="2360.78" width="16.26" height="10.87"/>
<rect x="638.97" y="2363.8" width="16.26" height="7.85"/>
<rect x="720.26" y="2364.39" width="16.26" height="7.26"/>
<rect x="801.54" y="2360.78" width="16.26" height="10.87"/>
<rect x="882.83" y="2365.76" width="16.26" height="5.89"/>
<rect x="964.11" y="2361.31" width="16.26" height="10.34"/>
<rect x="1045.4" y="2361.31" width="16.26" height="10.34"/>
<rect x="1126.68" y="2361.9" width="16.26" height="9.75"/>
<rect x="1207.97" y="2357.22" width="16.26" height="14.43"/>
<rect x="1289.25" y="2366.59" width="16.26" height="5.06"/>
<rect x="1370.54" y="2356.92" width="16.26" height="14.73"/>
<rect x="1451.82" y="2354.19" width="16.26" height="17.46"/>
<rect x="1533.11" y="2343.46" width="16.26" height="28.19"/>
<rect x="1614.39" y="2329.76" width="16.26" height="41.89"/>
<rect x="1695.68" y="2050.45" width="16.26" height="321.2"/>
</g>
<g fill="#fbbb08" stroke="#000" stroke-width="3.55" stroke-linejoin="miter">
<rect x="167.52" y="2357.75" width="16.26" height="13.9"/>
<rect x="248.81" y="2320.68" width="16.26" height="50.97"/>
<rect x="330.09" y="2336.1" width="16.26" height="35.55"/>
<rect x="411.38" y="2344.88" width="16.26" height="26.77"/>
<rect x="492.66" y="2340.19" width="16.26" height="31.46"/>
<rect x="573.95" y="2355.56" width="16.26" height="16.09"/>
<rect x="655.23" y="2347.91" width="16.26" height="23.74"/>
<rect x="736.52" y="2352.83" width="16.26" height="18.82"/>
<rect x="817.8" y="2352.29" width="16.26" height="19.36"/>
<rect x="899.09" y="2352" width="16.26" height="19.65"/>
<rect x="980.37" y="2345.71" width="16.26" height="25.94"/>
<rect x="1061.66" y="2349.8" width="16.26" height="21.85"/>
<rect x="1142.94" y="2354.19" width="16.26" height="17.46"/>
<rect x="1224.23" y="2360.78" width="16.26" height="10.87"/>
<rect x="1305.51" y="2355.85" width="16.26" height="15.8"/>
<rect x="1386.8" y="2354.19" width="16.26" height="17.46"/>
<rect x="1468.08" y="2342.39" width="16.26" height="29.26"/>
<rect x="1549.37" y="2336.34" width="16.26" height="35.31"/>
<rect x="1630.65" y="2336.34" width="16.26" height="35.31"/>
<rect x="1711.94" y="2252" width="16.26" height="119.65"/>
</g>
<g fill="#b2abd2" stroke="#000" stroke-width="3.55" stroke-linejoin="miter">
<rect x="183.78" y="2367.95" width="16.26" height="3.7"/>
<rect x="265.06" y="2346.78" width="16.26" height="24.87"/>
<rect x="346.35" y="2341.03" width="16.26" height="30.62"/>
<rect x="427.63" y="2346.78" width="16.26" height="24.87"/>
<rect x="508.92" y="2349.27" width="16.26" height="22.38"/>
<rect x="590.2" y="2350.1" width="16.26" height="21.55"/>
<rect x="671.49" y="2352" width="16.26" height="19.65"/>
<rect x="752.77" y="2352.83" width="16.26" height="18.82"/>
<rect x="834.06" y="2352.83" width="16.26" height="18.82"/>
<rect x="915.34" y="2351.46" width="16.26" height="20.19"/>
<rect x="996.63" y="2353.36" width="16.26" height="18.29"/>
<rect x="1077.91" y="2349.8" width="16.26" height="21.85"/>
<rect x="1159.2" y="2349.57" width="16.26" height="22.08"/>
<rect x="1240.48" y="2352" width="16.26" height="19.65"/>
<rect x="1321.77" y="2346.6" width="16.26" height="25.05"/>
<rect x="1403.05" y="2338.83" width="16.26" height="32.82"/>
<rect x="1484.34" y="2346.48" width="16.26" height="25.17"/>
<rect x="1565.62" y="2338.83" width="16.26" height="32.82"/>
<rect x="1646.91" y="2321.21" width="16.26" height="50.44"/>
<rect x="1728.19" y="2239.36" width="16.26" height="132.29"/>
</g>
<g fill="#5e3c99" stroke="#000" stroke-width="3.55" stroke-linejoin="miter">
<rect x="200.04" y="2349.57" width="16.26" height="22.08"/>
<rect x="281.32" y="2299.56" width="16.26" height="72.09"/>
<rect x="362.61" y="2320.98" width="16.26" height="50.67"/>
<rect x="443.89" y="2337.7" width="16.26" height="33.95"/>
<rect x="525.18" y="2345.12" width="16.26" height="26.53"/>
<rect x="606.46" y="2353.9" width="16.26" height="17.75"/>
<rect x="687.75" y="2357.22" width="16.26" height="14.43"/>
<rect x="769.03" y="2356.92" width="16.26" height="14.73"/>
<rect x="850.32" y="2355.32" width="16.26" height="16.33"/>
<rect x="931.6" y="2355.56" width="16.26" height="16.09"/>
<rect x="1012.89" y="2359.71" width="16.26" height="11.94"/>
<rect x="1094.17" y="2353.13" width="16.26" height="18.52"/>
<rect x="1175.46" y="2362.97" width="16.26" height="8.68"/>
<rect x="1256.74" y="2348.44" width="16.26" height="23.21"/>
<rect x="1338.03" y="2357.51" width="16.26" height="14.14"/>
<rect x="1419.31" y="2342.92" width="16.26" height="28.73"/>
<rect x="1500.6" y="2351.46" width="16.26" height="20.19"/>
<rect x="1581.88" y="2335.81" width="16.26" height="35.84"/>
<rect x="1663.17" y="2340.73" width="16.26" height="30.92"/>
<rect x="1744.45" y="2265.22" width="16.26" height="106.43"/>
</g>
</g>
<path d="M127.1 2371.65h12.5M127.1 2312.43h12.5M127.1 2253.2h12.5M127.1 2193.97h12.5M127.1 2134.75h12.5M127.1 2075.53h12.5M127.1 2016.3h12.5M127.1 1957.08h12.5M127.1 1897.85h12.5M127.1 1838.62h12.5M127.1 1779.4h12.5M183.8 2371.65v12.5M265.06 2371.65v12.5M346.32 2371.65v12.5M427.58 2371.65v12.5M508.84 2371.65v12.5M590.1 2371.65v12.5M671.36 2371.65v12.5M752.62 2371.65v12.5M833.88 2371.65v12.5M915.14 2371.65v12.5M996.4 2371.65v12.5M1077.66 2371.65v12.5M1158.92 2371.65v12.5M1240.18 2371.65v12.5M1321.44 2371.65v12.5M1402.7 2371.65v12.5M1483.96 2371.65v12.5M1565.22 2371.65v12.5M1646.48 2371.65v12.5M1727.74 2371.65v12.5" stroke="#000" stroke-width="2.85" fill="none"/>
<rect x="127.1" y="1767.2" width="1657.4" height="604.45" fill="none" stroke="#000" stroke-width="2.85"/>
<g font-size="25" text-anchor="end">
<text x="114.2" y="2380.85">0%</text>
<text x="114.2" y="2321.62">10%</text>
<text x="114.2" y="2262.4">20%</text>
<text x="114.2" y="2203.17">30%</text>
<text x="114.2" y="2143.95">40%</text>
<text x="114.2" y="2084.72">50%</text>
<text x="114.2" y="2025.5">60%</text>
<text x="114.2" y="1966.28">70%</text>
<text x="114.2" y="1907.05">80%</text>
<text x="114.2" y="1847.83">90%</text>
<text x="114.2" y="1788.6">100%</text>
</g>
<g font-size="25" text-anchor="middle">
<text transform="translate(182.35 2437.95) rotate(-45)" y="9">0%-5%</text>
<text transform="translate(263.61 2443.55) rotate(-45)" y="9">5%-10%</text>
<text transform="translate(344.87 2449.15) rotate(-45)" y="9">10%-15%</text>
<text transform="translate(426.13 2449.15) rotate(-45)" y="9">15%-20%</text>
<text transform="translate(507.39 2449.15) rotate(-45)" y="9">20%-25%</text>
<text transform="translate(588.65 2449.15) rotate(-45)" y="9">25%-30%</text>
<text transform="translate(669.91 2449.15) rotate(-45)" y="9">30%-35%</text>
<text transform="translate(751.17 2449.15) rotate(-45)" y="9">35%-40%</text>
<text transform="translate(832.43 2449.15) rotate(-45)" y="9">40%-45%</text>
<text transform="translate(913.69 2449.15) rotate(-45)" y="9">45%-50%</text>
<text transform="translate(994.95 2449.15) rotate(-45)" y="9">50%-55%</text>
<text transform="translate(1076.21 2449.15) rotate(-45)" y="9">55%-60%</text>
<text transform="translate(1157.47 2449.15) rotate(-45)" y="9">60%-65%</text>
<text transform="translate(1238.73 2449.15) rotate(-45)" y="9">65%-70%</text>
<text transform="translate(1319.99 2449.15) rotate(-45)" y="9">70%-75%</text>
<text transform="translate(1401.25 2449.15) rotate(-45)" y="9">75%-80%</text>
<text transform="translate(1482.51 2449.15) rotate(-45)" y="9">80%-85%</text>
<text transform="translate(1563.77 2449.15) rotate(-45)" y="9">85%-90%</text>
<text transform="translate(1645.03 2449.15) rotate(-45)" y="9">90%-95%</text>
<text transform="translate(1726.29 2454.75) rotate(-45)" y="9">95%-100%</text>
</g>
<text x="955.8" y="2546.45" font-size="25.35" font-weight="bold" text-anchor="middle">Confidence score interval</text>
<text transform="translate(22 2070.75) rotate(-90)" font-size="25.35" font-weight="bold" text-anchor="middle">Proportion / Accuracy</text>
<text x="127.7" y="1745.75" font-size="30" font-weight="bold">c)</text>
<rect x="153.55" y="1784.8" width="440.1" height="264" rx="5" ry="5" fill="#fff" fill-opacity="0.8" stroke="#d4d4d4" stroke-width="3.5"/>
<g font-size="19.92">
<rect x="161.55" y="1793" width="40" height="14" fill="#e66101" stroke="#000" stroke-width="3.7"/>
<text x="217.1" y="1807">Formaldehyde (NAF&amp;PCS) proportion</text>
<rect x="161.55" y="1821.72" width="40" height="14" fill="#fbbb08" stroke="#000" stroke-width="3.7"/>
<text x="217.1" y="1835.72">Silica (NAF&amp;PCS) proportion</text>
<rect x="161.55" y="1850.44" width="40" height="14" fill="#b2abd2" stroke="#000" stroke-width="3.7"/>
<text x="217.1" y="1864.44">ALOHA (ISCO-88) proportion</text>
<rect x="161.55" y="1879.16" width="40" height="14" fill="#5e3c99" stroke="#000" stroke-width="3.7"/>
<text x="217.1" y="1893.16">DOM (ISCO-68) proportion</text>
<circle cx="181.55" cy="1916.78" r="6.3" fill="#e66101"/>
<text x="217.1" y="1921.88">Formaldehyde (NAF&amp;PCS) accuracy</text>
<circle cx="181.55" cy="1945.5" r="6.3" fill="#fbbb08"/>
<text x="217.1" y="1950.6">Silica (NAF&amp;PCS) accuracy</text>
<circle cx="181.55" cy="1974.22" r="6.3" fill="#b2abd2"/>
<text x="217.1" y="1979.32">ALOHA (ISCO-88) accuracy</text>
<circle cx="181.55" cy="2002.94" r="6.3" fill="#5e3c99"/>
<text x="217.1" y="2008.04">DOM (ISCO-68) accuracy</text>
<path d="M161.55 2029.76h40" stroke="#000" stroke-width="2.17" stroke-dasharray="8.1 3.4" fill="none"/>
<path d="M181.55 2019.76v20" stroke="#000" stroke-width="2.1" fill="none"/>
<text x="217.1" y="2036.76">Mean accuracy</text>
</g>
</g>
</svg>
</body>
</html>
